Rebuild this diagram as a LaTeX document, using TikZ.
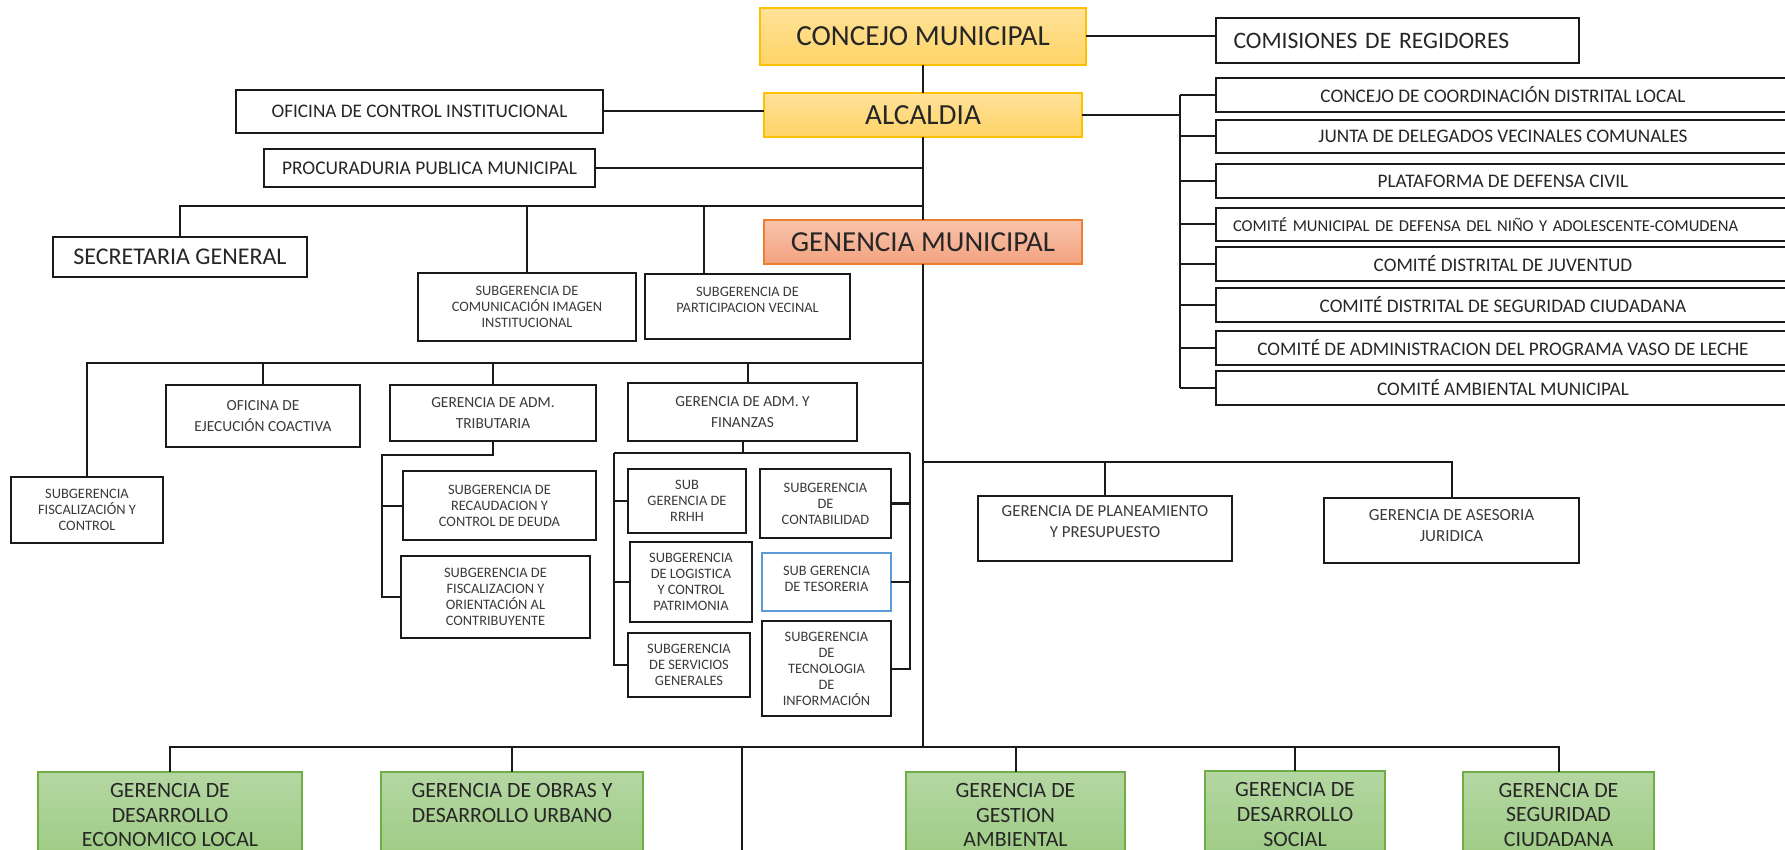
\documentclass[tikz,border=0pt]{standalone}
\usepackage{fontspec}
\setmainfont{Carlito}
\definecolor{ln}{HTML}{1A1A1A}
\definecolor{txt}{HTML}{262626}
\definecolor{stxt}{HTML}{3A3A3A}
\definecolor{goldt}{HTML}{FFE29A}
\definecolor{goldb}{HTML}{FFD466}
\definecolor{goldr}{HTML}{FFC000}
\definecolor{salt}{HTML}{F8C4AC}
\definecolor{salb}{HTML}{F3A27F}
\definecolor{salr}{HTML}{ED7D31}
\definecolor{grnt}{HTML}{B5D7A3}
\definecolor{grnb}{HTML}{9DCB83}
\definecolor{grnr}{HTML}{70AD47}
\definecolor{bluer}{HTML}{5B9BD5}
\tikzset{
  box/.style={draw=ln, line width=1pt, fill=white, inner sep=0pt, outer sep=0pt, align=center, text=txt},
  goldbox/.style={box, draw=goldr, top color=goldt, bottom color=goldb, font=\fontsize{14.6}{16}\selectfont},
  salbox/.style={box, draw=salr, top color=salt, bottom color=salb, font=\fontsize{14.5}{16}\selectfont},
  grnbox/.style={box, draw=grnr, top color=grnt, bottom color=grnb, font=\fontsize{10.9}{12.4}\selectfont},
  rbox/.style={box, font=\fontsize{9.6}{11}\selectfont},
  sbox/.style={box, text=stxt, font=\fontsize{7.2}{8}\selectfont},
  mbox/.style={box, text=stxt, font=\fontsize{7.7}{10.2}\selectfont},
  conn/.style={draw=ln, line width=1pt},
}
% style, name, x1, y1, x2, y2, text  (pixel coordinates of the corners)
\newcommand{\orgbox}[7]{%
  \pgfmathsetmacro{\obw}{(#5-#3)*0.5}%
  \pgfmathsetmacro{\obh}{(#6-#4)*0.5}%
  \node[#1, minimum width=\obw pt, minimum height=\obh pt] (#2) at ({(#3+#5)/2},{(#4+#6)/2}) {#7};}
\begin{document}
\begin{tikzpicture}[x=0.5pt,y=-0.5pt]
\useasboundingbox (0,0) rectangle (1785,850);
% top
\orgbox{goldbox}{concejo}{760}{8}{1086}{65}{CONCEJO MUNICIPAL}
\orgbox{box, text width=164pt, align=left, font=\fontsize{11.8}{13}\selectfont}{comis}{1216}{18}{1579}{63}{COMISIONES DE REGIDORES}
\orgbox{goldbox}{alcaldia}{764}{93}{1082}{137}{ALCALDIA}
\orgbox{box, font=\fontsize{9.6}{11}\selectfont}{oci}{236}{90}{603}{133}{OFICINA DE CONTROL INSTITUCIONAL}
\orgbox{box, font=\fontsize{9.7}{11}\selectfont}{proc}{264}{149}{595}{187}{PROCURADURIA PUBLICA MUNICIPAL}
% right column
\orgbox{rbox}{r1}{1216}{78}{1790}{112}{CONCEJO DE COORDINACIÓN DISTRITAL LOCAL}
\orgbox{rbox}{r2}{1216}{120}{1790}{153}{JUNTA DE DELEGADOS VECINALES COMUNALES}
\orgbox{rbox}{r3}{1216}{164}{1790}{198}{PLATAFORMA DE DEFENSA CIVIL}
\orgbox{rbox, text width=270pt, align=left, font=\fontsize{8.3}{10}\selectfont}{r4}{1216}{208}{1790}{241}{COMITÉ MUNICIPAL DE DEFENSA DEL NIÑO Y ADOLESCENTE-COMUDENA}
\orgbox{rbox}{r5}{1216}{247}{1790}{281}{COMITÉ DISTRITAL DE JUVENTUD}
\orgbox{rbox}{r6}{1216}{288}{1790}{322}{COMITÉ DISTRITAL DE SEGURIDAD CIUDADANA}
\orgbox{rbox}{r7}{1216}{331}{1790}{365}{COMITÉ DE ADMINISTRACION DEL PROGRAMA VASO DE LECHE}
\orgbox{rbox}{r8}{1216}{371}{1790}{405}{COMITÉ AMBIENTAL MUNICIPAL}
% second level
\orgbox{box, font=\fontsize{12}{14}\selectfont}{secgen}{53}{237}{307}{277}{SECRETARIA GENERAL}
\orgbox{salbox}{genm}{764}{220}{1082}{264}{GENENCIA MUNICIPAL}
\orgbox{sbox}{subcom}{418}{273}{636}{341}{SUBGERENCIA DE\\COMUNICACIÓN IMAGEN\\INSTITUCIONAL}
\orgbox{sbox}{subpart}{645}{274}{850}{339}{SUBGERENCIA DE\\PARTICIPACION VECINAL\\[-1pt]}
% third level
\orgbox{sbox}{fisc}{11}{477}{163}{543}{SUBGERENCIA\\FISCALIZACIÓN Y\\CONTROL}
\orgbox{mbox}{coact}{166}{385}{360}{447}{OFICINA DE\\EJECUCIÓN COACTIVA}
\orgbox{mbox}{gat}{390}{385}{596}{441}{GERENCIA DE ADM.\\TRIBUTARIA}
\orgbox{mbox}{gaf}{628}{383}{857}{441}{GERENCIA DE ADM. Y\\FINANZAS}
\orgbox{sbox}{recaud}{403}{471}{596}{540}{SUBGERENCIA DE\\RECAUDACION Y\\CONTROL DE DEUDA}
\orgbox{sbox}{fiscor}{401}{556}{590}{638}{SUBGERENCIA DE\\FISCALIZACION Y\\ORIENTACIÓN AL\\CONTRIBUYENTE}
\orgbox{sbox}{rrhh}{628}{469}{746}{533}{SUB\\GERENCIA DE\\RRHH}
\orgbox{sbox}{log}{630}{542}{752}{622}{SUBGERENCIA\\DE LOGISTICA\\Y CONTROL\\PATRIMONIA}
\orgbox{sbox}{sgs}{628}{633}{750}{697}{SUBGERENCIA\\DE SERVICIOS\\GENERALES}
\orgbox{sbox}{cont}{760}{469}{891}{538}{SUBGERENCIA\\DE\\CONTABILIDAD}
\orgbox{sbox, draw=bluer}{tes}{762}{553}{891}{611}{SUB GERENCIA\\DE TESORERIA\\[-5pt]}
\orgbox{sbox}{tec}{762}{621}{891}{716}{SUBGERENCIA\\DE\\TECNOLOGIA\\DE\\INFORMACIÓN}
\orgbox{mbox, font=\fontsize{8.4}{10.2}\selectfont}{gpp}{978}{496}{1232}{561}{GERENCIA DE PLANEAMIENTO\\Y PRESUPUESTO\\[-3.2pt]}
\orgbox{mbox, font=\fontsize{8.5}{10.2}\selectfont}{gaj}{1324}{498}{1579}{563}{GERENCIA DE ASESORIA\\JURIDICA\\[-5.2pt]}
% bottom green
\orgbox{grnbox}{ged}{38}{772}{302}{858}{GERENCIA DE\\DESARROLLO\\ECONOMICO LOCAL}
\orgbox{grnbox}{gobras}{381}{772}{643}{858}{GERENCIA DE OBRAS Y\\DESARROLLO URBANO\\\mbox{}}
\orgbox{grnbox}{gga}{906}{772}{1125}{858}{GERENCIA DE\\GESTION\\AMBIENTAL}
\orgbox{grnbox}{gds}{1205}{771}{1385}{858}{GERENCIA DE\\DESARROLLO\\SOCIAL}
\orgbox{grnbox}{gsc}{1463}{772}{1654}{858}{GERENCIA DE\\SEGURIDAD\\CIUDADANA}
% coordinates
\coordinate (b1) at (923,206);
\coordinate (b1p) at (704,206);
\coordinate (b2) at (923,363);
\coordinate (b2f) at (748,363);
\coordinate (b3) at (923,462);
\coordinate (b4) at (923,747);
\coordinate (bfree) at (742,860);
\coordinate (rb) at (1180,115);
\coordinate (gatl) at (382,455);
\coordinate (gafl) at (614,453);
\coordinate (gafr) at (910,453);
% connectors
\draw[conn] (concejo.east) -- (concejo.east -| comis.west);
\draw[conn] (concejo.south) -- (alcaldia.north);
\draw[conn] (alcaldia.south) -- (genm.north);
\draw[conn] (genm.south) -- (b4);
\draw[conn] (oci.east) -- (oci.east -| alcaldia.west);
\draw[conn] (proc.east) -- (proc.east -| b1);
\draw[conn] (alcaldia.east) -- (alcaldia.east -| rb);
\draw[conn] (r1.west -| rb) -- (r8.west -| rb);
\foreach \r in {r1,r2,r3,r4,r5,r6,r7,r8} \draw[conn] (\r.west) -- (\r.west -| rb);
\draw[conn] (secgen.north) |- (b1);
\draw[conn] (subcom.north) -- (subcom.north |- b1);
\draw[conn] (b1p) -- (b1p |- subpart.north);
\draw[conn] (fisc.north) |- (b2);
\draw[conn] (coact.north) -- (coact.north |- b2);
\draw[conn] (gat.north) -- (gat.north |- b2);
\draw[conn] (b2f) -- (b2f |- gaf.north);
\draw[conn] (gat.south) |- (gatl) |- (recaud.west);
\draw[conn] (gatl) |- (fiscor.west);
\draw[conn] (gaf.south) -- (gaf.south |- gafl);
\draw[conn] (gafl) -- (gafr);
\draw[conn] (gafl) |- (sgs.west);
\draw[conn] (gafr) |- (tec.east);
\draw[conn] (rrhh.west) -- (rrhh.west -| gafl);
\draw[conn] (log.west) -- (log.west -| gafl);
\draw[conn] (cont.east) -- (cont.east -| gafr);
\draw[conn] (tes.east) -- (tes.east -| gafr);
\draw[conn] (b3) -| (gaj.north);
\draw[conn] (gpp.north) -- (gpp.north |- b3);
\draw[conn] (ged.north) |- (b4) -| (gsc.north);
\draw[conn] (gobras.north) -- (gobras.north |- b4);
\draw[conn] (gga.north) -- (gga.north |- b4);
\draw[conn] (gds.north) -- (gds.north |- b4);
\draw[conn] (bfree) -- (bfree |- b4);
\end{tikzpicture}
\end{document}
